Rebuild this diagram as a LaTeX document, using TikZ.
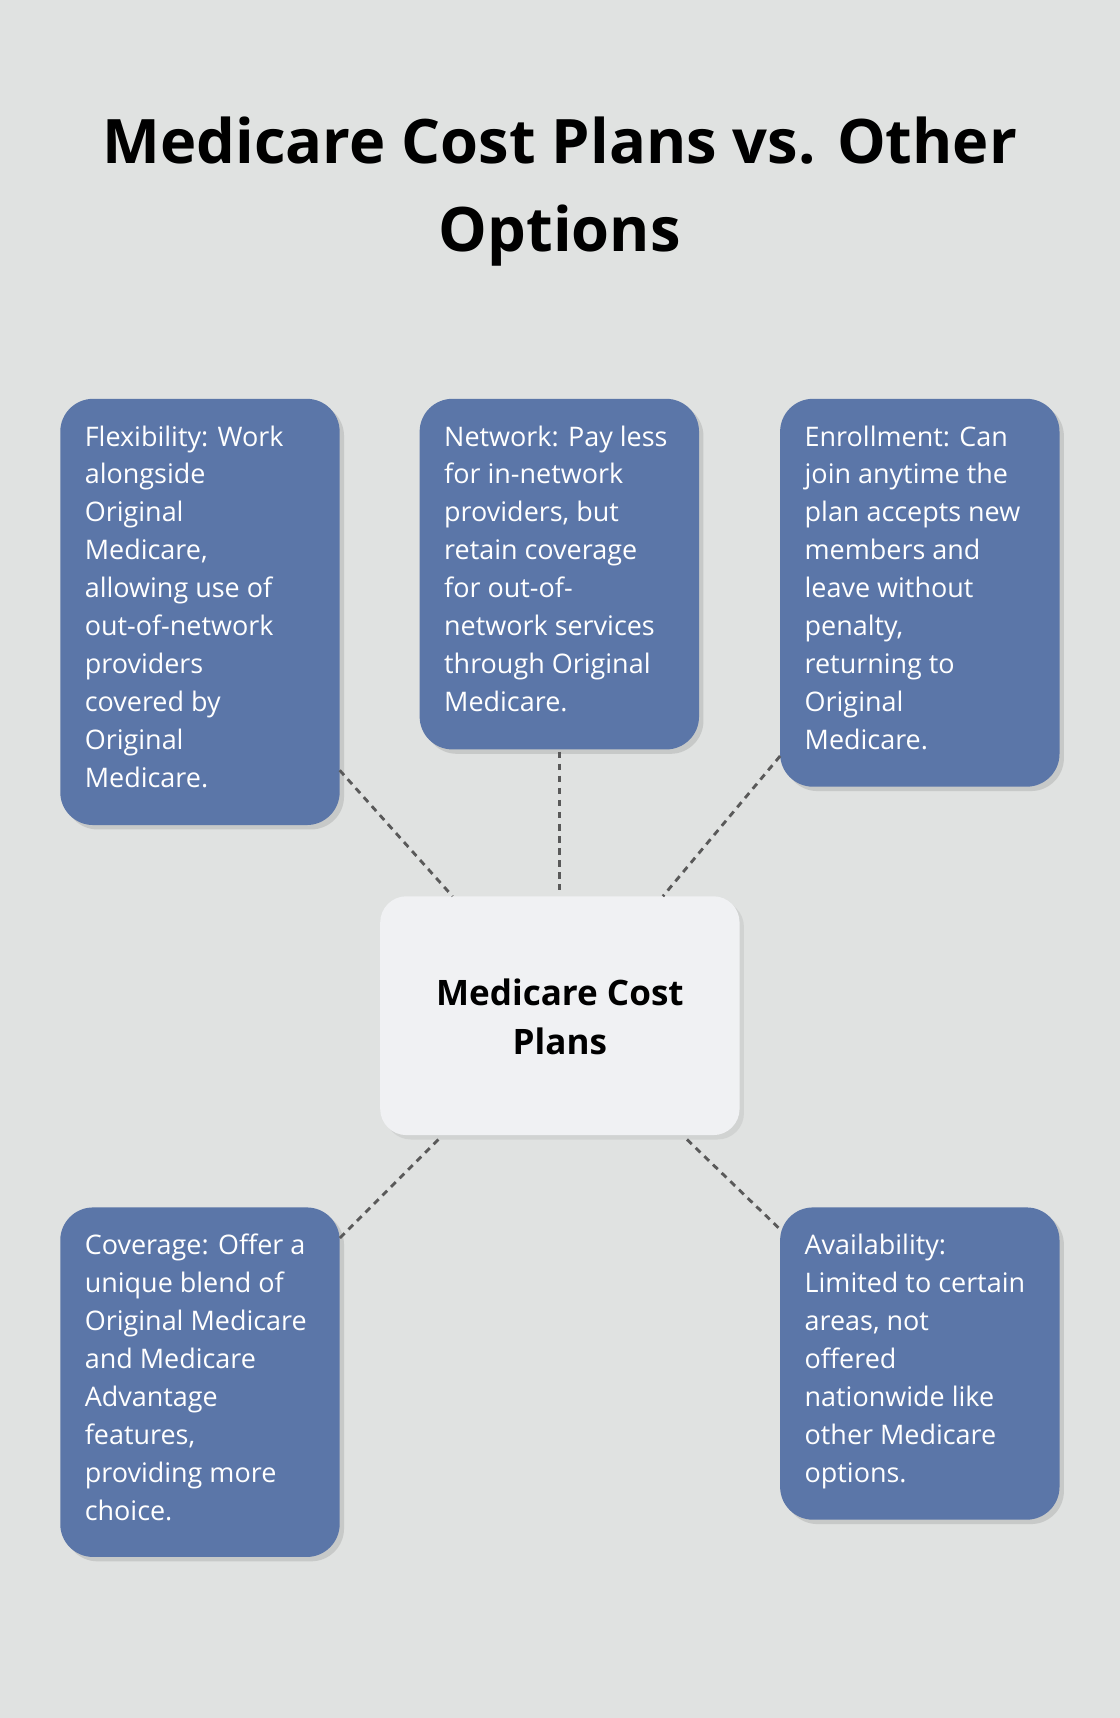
\documentclass[tikz,border=0pt]{standalone}
\usepackage{fontspec}
\setmainfont{Open Sans}
\usetikzlibrary{shadows}
\definecolor{bg}{HTML}{E0E2E1}
\definecolor{boxc}{HTML}{5B76A8}
\definecolor{cen}{HTML}{F0F1F3}
\begin{document}
\begin{tikzpicture}[x=0.5pt,y=-0.5pt,
  card/.style={draw=none,fill=boxc,rounded corners=15pt,drop shadow={opacity=0.25,shadow xshift=2pt,shadow yshift=-2pt}},
  txt/.style={anchor=north west,text=white,align=left,font=\fontsize{12.3}{17.3}\selectfont,inner sep=0pt},
  link/.style={draw=black!65,line width=1.3pt,dash pattern=on 3pt off 2.5pt}]
\fill[bg] (0,0) rectangle (1022,1568);
\useasboundingbox (0,0) rectangle (1022,1568);
\node[font=\bfseries\fontsize{28}{40}\selectfont,align=center] (title) at (511,175) {Medicare Cost Plans vs. Other\\Options};
\path[card] (55,364) rectangle (310,753);
\path[card] (383,364) rectangle (638,684);
\path[card] (712,364) rectangle (967,718);
\path[card] (55,1102) rectangle (310,1421);
\path[card] (712,1102) rectangle (967,1387);
\path[fill=cen,rounded corners=12pt,drop shadow={opacity=0.15,shadow xshift=2pt,shadow yshift=-2pt}] (347,818) rectangle (675,1036);
\node[txt] (flex) at (77,388) {Flexibility: Work\\alongside\\Original\\Medicare,\\allowing use of\\out-of-network\\providers\\covered by\\Original\\Medicare.};
\node[txt] (net) at (405,388) {Network: Pay less\\for in-network\\providers, but\\retain coverage\\for out-of-\\network services\\through Original\\Medicare.};
\node[txt] (enr) at (734,388) {Enrollment: Can\\join anytime the\\plan accepts new\\members and\\leave without\\penalty,\\returning to\\Original\\Medicare.};
\node[txt] (cov) at (77,1126) {Coverage: Offer a\\unique blend of\\Original Medicare\\and Medicare\\Advantage\\features,\\providing more\\choice.};
\node[txt] (ava) at (734,1126) {Availability:\\Limited to certain\\areas, not\\offered\\nationwide like\\other Medicare\\options.};
\node[font=\bfseries\fontsize{16}{22}\selectfont,align=center] (center) at (511,928) {Medicare Cost\\Plans};
\coordinate (f1) at (310,703); \coordinate (c1) at (413,818);
\coordinate (n1) at (511,686); \coordinate (c2) at (511,812);
\coordinate (e1) at (712,690); \coordinate (c3) at (605,818);
\coordinate (c4) at (400,1040); \coordinate (v1) at (310,1130);
\coordinate (c5) at (627,1040); \coordinate (a1) at (712,1122);
\draw[link] (f1) -- (c1);
\draw[link] (n1) -- (c2);
\draw[link] (e1) -- (c3);
\draw[link] (c4) -- (v1);
\draw[link] (c5) -- (a1);
\end{tikzpicture}
\end{document}
